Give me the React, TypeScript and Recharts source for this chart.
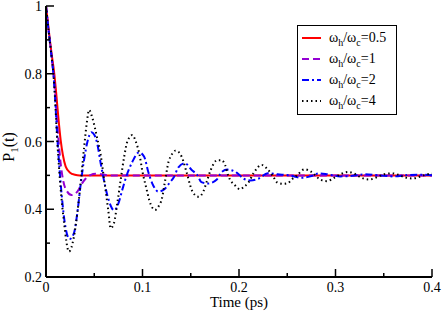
import { Legend, Line, LineChart, XAxis, YAxis } from 'recharts';

const serif = "'Liberation Serif', 'DejaVu Serif', 'Times New Roman', Times, serif";

// axis ticks
const xTicks = [0, 0.05, 0.1, 0.15, 0.2, 0.25, 0.3, 0.35, 0.4];
const xLabels = [0, 0.1, 0.2, 0.3, 0.4];
const yTicks = [0.2, 0.3, 0.4, 0.5, 0.6, 0.7, 0.8, 0.9, 1];
const yLabels = [0.2, 0.4, 0.6, 0.8, 1];

// wh/wc = 0.5
const tRed = [0, 0.002, 0.004, 0.006, 0.0086, 0.0105, 0.0125, 0.0152, 0.0175, 0.0204, 0.025, 0.03, 0.035, 0.05, 0.1, 0.2, 0.3, 0.4];
const pRed = [1, 0.95, 0.9, 0.855, 0.8, 0.745, 0.68, 0.604, 0.56, 0.526, 0.508, 0.502, 0.5, 0.5, 0.5, 0.5, 0.5, 0.5];

// wh/wc = 1
const tViolet = [0, 0.002, 0.004, 0.006, 0.008, 0.0105, 0.0128, 0.015, 0.018, 0.022, 0.0265, 0.0325, 0.036, 0.041, 0.046, 0.0515, 0.058, 0.065, 0.08, 0.1, 0.2, 0.3, 0.4];
const pViolet = [1, 0.945, 0.895, 0.845, 0.79, 0.7, 0.61, 0.54, 0.482, 0.452, 0.442, 0.452, 0.47, 0.49, 0.501, 0.505, 0.503, 0.5, 0.5, 0.5, 0.5, 0.5, 0.5];

// wh/wc = 2
const tBlue = [0, 0.002, 0.004, 0.006, 0.008, 0.012, 0.016, 0.02, 0.0245, 0.029, 0.0325, 0.036, 0.0394, 0.043, 0.047, 0.05, 0.053, 0.0567, 0.06, 0.065, 0.0705, 0.0756, 0.079, 0.0836, 0.0895, 0.0964, 0.1016, 0.106, 0.111, 0.1165, 0.123, 0.128, 0.1326, 0.137, 0.144, 0.151, 0.157, 0.161, 0.168, 0.177, 0.182, 0.188, 0.1976, 0.205, 0.212, 0.22, 0.23, 0.24, 0.252, 0.265, 0.274, 0.283, 0.292, 0.305, 0.318, 0.33, 0.345, 0.36, 0.375, 0.39, 0.4];
const pBlue = [1, 0.945, 0.895, 0.845, 0.79, 0.6, 0.45, 0.35, 0.312, 0.33, 0.39, 0.475, 0.545, 0.6, 0.627, 0.62, 0.595, 0.535, 0.486, 0.427, 0.397, 0.422, 0.457, 0.5, 0.54, 0.568, 0.556, 0.51, 0.471, 0.452, 0.46, 0.478, 0.495, 0.523, 0.536, 0.516, 0.5, 0.48, 0.476, 0.488, 0.51, 0.517, 0.508, 0.49, 0.485, 0.49, 0.506, 0.503, 0.5, 0.493, 0.497, 0.506, 0.503, 0.497, 0.499, 0.503, 0.5, 0.497, 0.501, 0.502, 0.5];

// wh/wc = 4
const tBlack = [0, 0.002, 0.004, 0.006, 0.008, 0.0117, 0.0152, 0.0187, 0.0238, 0.029, 0.0325, 0.036, 0.0394, 0.0425, 0.0446, 0.048, 0.053, 0.0567, 0.0594, 0.0618, 0.0646, 0.067, 0.0705, 0.074, 0.0774, 0.081, 0.0843, 0.0895, 0.093, 0.097, 0.1, 0.104, 0.107, 0.113, 0.117, 0.12, 0.123, 0.127, 0.13, 0.134, 0.137, 0.1406, 0.146, 0.151, 0.1544, 0.158, 0.163, 0.1665, 0.1707, 0.1776, 0.182, 0.1855, 0.189, 0.196, 0.201, 0.2055, 0.2096, 0.215, 0.2235, 0.2287, 0.2355, 0.24, 0.246, 0.2505, 0.2546, 0.26, 0.268, 0.2746, 0.284, 0.291, 0.2995, 0.305, 0.313, 0.321, 0.326, 0.335, 0.344, 0.3495, 0.358, 0.367, 0.372, 0.38, 0.389, 0.395, 0.4];
const pBlack = [1, 0.945, 0.895, 0.845, 0.79, 0.6, 0.46, 0.36, 0.275, 0.32, 0.39, 0.48, 0.58, 0.66, 0.693, 0.67, 0.61, 0.56, 0.505, 0.455, 0.395, 0.344, 0.36, 0.42, 0.487, 0.555, 0.6, 0.619, 0.6, 0.56, 0.51, 0.462, 0.427, 0.398, 0.41, 0.43, 0.477, 0.54, 0.56, 0.573, 0.57, 0.555, 0.506, 0.457, 0.442, 0.437, 0.452, 0.481, 0.516, 0.545, 0.545, 0.531, 0.498, 0.47, 0.459, 0.467, 0.478, 0.506, 0.531, 0.521, 0.496, 0.478, 0.475, 0.477, 0.488, 0.5, 0.518, 0.511, 0.488, 0.483, 0.494, 0.503, 0.51, 0.503, 0.494, 0.488, 0.496, 0.503, 0.506, 0.5, 0.494, 0.491, 0.498, 0.503, 0.505];

const toPoints = (t: number[], p: number[]) => t.map((time, i) => ({ t: time, p: p[i] }));

const series = [
  { name: '0.5', color: '#ff0000', dash: undefined, data: toPoints(tRed, pRed) },
  { name: '1', color: '#9400d3', dash: '7 4', data: toPoints(tViolet, pViolet) },
  { name: '2', color: '#0000ff', dash: '7 3 2 3', data: toPoints(tBlue, pBlue) },
  { name: '4', color: '#000000', dash: '1.5 3', data: toPoints(tBlack, pBlack) }
];

const textStyle = { fontFamily: serif };

function BottomTick({ x, y, payload }: any) {
  const major = xLabels.includes(payload.value);
  return (
    <g>
      <line x1={x} x2={x} y1={y} y2={y - (major ? 8 : 4)} stroke='#000' strokeWidth={1.5} />
      {major && (
        <text x={x} y={y + 15} textAnchor='middle' style={textStyle} fontSize={14} fill='#000'>
          {payload.value}
        </text>
      )}
    </g>
  );
}

function TopTick({ x, y, payload }: any) {
  const major = xLabels.includes(payload.value);
  return <line x1={x} x2={x} y1={y} y2={y + (major ? 8 : 4)} stroke='#000' strokeWidth={1.5} />;
}

function LeftTick({ x, y, payload }: any) {
  const major = yLabels.includes(payload.value);
  return (
    <g>
      <line x1={x} x2={x + (major ? 8 : 4)} y1={y} y2={y} stroke='#000' strokeWidth={1.5} />
      {major && (
        <text x={x - 4} y={y + 5} textAnchor='end' style={textStyle} fontSize={14} fill='#000'>
          {payload.value}
        </text>
      )}
    </g>
  );
}

function RightTick({ x, y, payload }: any) {
  const major = yLabels.includes(payload.value);
  return <line x1={x} x2={x - (major ? 8 : 4)} y1={y} y2={y} stroke='#000' strokeWidth={1.5} />;
}

function YLabel() {
  return (
    <text transform='translate(14,147) rotate(-90)' textAnchor='middle' style={textStyle} fontSize={16} fill='#000'>
      P<tspan dy={4} fontSize={11}>1</tspan>
      <tspan dy={-4}>(t)</tspan>
    </text>
  );
}

function XLabel() {
  return (
    <text x={239} y={307} textAnchor='middle' style={textStyle} fontSize={15} fill='#000'>
      Time (ps)
    </text>
  );
}

function LegendBox() {
  return (
    <div
      style={{
        border: '1.5px solid #000',
        background: '#fff',
        width: 100,
        height: 90,
        boxSizing: 'border-box',
        paddingTop: 1,
        fontFamily: serif,
        fontSize: 14,
        color: '#000'
      }}
    >
      {series.map(s => (
        <div key={s.name} style={{ display: 'flex', alignItems: 'center', height: 21, lineHeight: 1 }}>
          <svg width={24} height={10} style={{ marginLeft: 4 }}>
            <line x1={0} x2={19} y1={5} y2={5} stroke={s.color} strokeWidth={2} strokeDasharray={s.dash} />
          </svg>
          <span style={{ marginLeft: 3, whiteSpace: 'nowrap' }}>
            ω<sub style={{ fontSize: 10, lineHeight: 0 }}>h</sub>/ω<sub style={{ fontSize: 10, lineHeight: 0 }}>c</sub>={s.name}
          </span>
        </div>
      ))}
    </div>
  );
}

export default function App() {
  return (
    <div style={{ position: 'absolute', left: 0, top: 0, background: '#fff', fontFamily: serif }}>
      <LineChart width={443} height={312} margin={{ top: 6, right: 11, bottom: 0, left: 0 }}>
        <XAxis
          dataKey='t'
          type='number'
          domain={[0, 0.4]}
          ticks={xTicks}
          interval={0}
          allowDataOverflow
          height={35}
          tickSize={0}
          tickMargin={0}
          tickLine={false}
          tick={<BottomTick />}
          axisLine={{ stroke: '#000', strokeWidth: 2 }}
          label={<XLabel />}
        />
        <XAxis
          xAxisId='top'
          orientation='top'
          dataKey='t'
          type='number'
          domain={[0, 0.4]}
          ticks={xTicks}
          interval={0}
          allowDataOverflow
          height={0}
          tickSize={0}
          tickMargin={0}
          tickLine={false}
          tick={<TopTick />}
          axisLine={{ stroke: '#000', strokeWidth: 2 }}
        />
        <YAxis
          type='number'
          domain={[0.2, 1]}
          ticks={yTicks}
          interval={0}
          allowDataOverflow
          width={46}
          tickSize={0}
          tickMargin={0}
          tickLine={false}
          tick={<LeftTick />}
          axisLine={{ stroke: '#000', strokeWidth: 2 }}
          label={<YLabel />}
        />
        <YAxis
          yAxisId='right'
          orientation='right'
          type='number'
          domain={[0.2, 1]}
          ticks={yTicks}
          interval={0}
          allowDataOverflow
          width={0}
          tickSize={0}
          tickMargin={0}
          tickLine={false}
          tick={<RightTick />}
          axisLine={{ stroke: '#000', strokeWidth: 2 }}
        />
        <Legend
          layout='vertical'
          align='center'
          verticalAlign='middle'
          content={<LegendBox />}
          wrapperStyle={{ position: 'absolute', left: 297, top: 25, width: 100, height: 90 }}
        />
        {series.map(s => (
          <Line
            key={s.name}
            data={s.data}
            dataKey='p'
            type='monotone'
            stroke={s.color}
            strokeWidth={2}
            strokeDasharray={s.dash}
            dot={false}
            activeDot={false}
            isAnimationActive={false}
          />
        ))}
      </LineChart>
    </div>
  );
}
